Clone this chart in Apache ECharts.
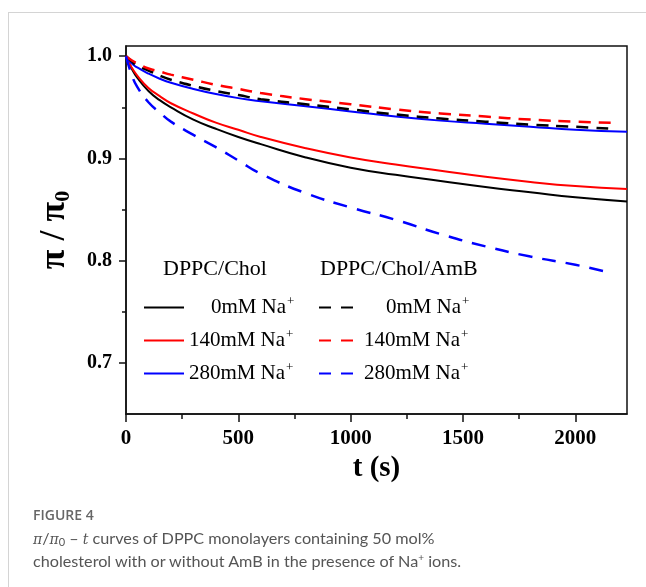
<!DOCTYPE html>
<html>
<head>
<meta charset="utf-8">
<script src="https://cdn.jsdelivr.net/npm/echarts@6/dist/echarts.min.js"></script>
<style>
  html, body { margin: 0; padding: 0; background: #fff; }
  .frame { position: absolute; left: 8px; top: 12px; width: 660px; height: 600px;
           border-top: 1.5px solid #d4d4d4; border-left: 1.5px solid #d4d4d4; }
  #chart { position: absolute; left: 0; top: 0; width: 646px; height: 587px; }
  .cap { position: absolute; left: 33px; top: 507px; font-family: Lato, "Open Sans", sans-serif; color: #555; }
  .cap .fig { font-family: "Open Sans", sans-serif; font-size: 14px; font-weight: 600; color: #666; line-height: 16px; }
  .cap .txt { font-size: 16.2px; line-height: 23px; margin-top: 3px; }
  .cap sub { font-size: 11px; vertical-align: -2px; line-height: 0; }
  .cap sup { font-size: 10px; vertical-align: 6px; line-height: 0; }
  .cap i { font-family: "DejaVu Serif", serif; font-size: 14px; line-height: 0; }
</style>
</head>
<body>
<div class="frame"></div>
<div id="chart"></div>
<div class="cap">
  <div class="fig">FIGURE 4</div>
  <div class="txt"><i>π</i>/<i>π</i><sub>0</sub> – <i>t</i> curves of DPPC monolayers containing 50 mol%<br>cholesterol with or without AmB in the presence of Na<sup>+</sup> ions.</div>
</div>
<script>
// time points (s)
var tSolid = [0, 25, 50, 100, 150, 200, 300, 400, 500, 600, 800, 1000, 1200, 1400, 1600, 1800, 2000, 2230];
var tDash  = [0, 25, 50, 100, 150, 200, 300, 400, 500, 600, 800, 1000, 1200, 1400, 1600, 1800, 2000, 2160];

// DPPC/Chol
var chol0   = [1.0, 0.988, 0.979, 0.966, 0.957, 0.950, 0.938, 0.929, 0.921, 0.914, 0.901, 0.891, 0.884, 0.878, 0.872, 0.867, 0.862, 0.858];
var chol140 = [1.0, 0.989, 0.981, 0.969, 0.961, 0.954, 0.944, 0.935, 0.928, 0.921, 0.910, 0.901, 0.894, 0.888, 0.882, 0.877, 0.873, 0.870];
var chol280 = [1.0, 0.993, 0.989, 0.983, 0.978, 0.974, 0.968, 0.963, 0.959, 0.956, 0.951, 0.946, 0.941, 0.937, 0.934, 0.931, 0.928, 0.926];
// DPPC/Chol/AmB
var amb0   = [1.0, 0.995, 0.991, 0.986, 0.981, 0.977, 0.971, 0.966, 0.962, 0.958, 0.953, 0.948, 0.943, 0.939, 0.936, 0.933, 0.931, 0.929];
var amb140 = [1.0, 0.996, 0.993, 0.988, 0.985, 0.982, 0.977, 0.972, 0.968, 0.964, 0.958, 0.953, 0.948, 0.944, 0.941, 0.938, 0.936, 0.935];
var amb280 = [1.0, 0.982, 0.970, 0.955, 0.945, 0.936, 0.923, 0.911, 0.898, 0.885, 0.866, 0.852, 0.840, 0.826, 0.814, 0.804, 0.796, 0.788];

var naLevels = ['0', '140', '280'];
var colors = ['#000000', '#ff0000', '#0000ff'];
var xMajor = [0, 500, 1000, 1500, 2000];
var xMinor = [250, 750, 1250, 1750];
var yMajor = [0.7, 0.8, 0.9, 1.0];
var yMinor = [0.75, 0.85, 0.95];

function pairs(ts, vs) {
  return ts.map(function (t, i) { return [t, vs[i]]; });
}

var serif = '"Liberation Serif", "Times New Roman", serif';
var cholSets = [chol0, chol140, chol280];
var ambSets = [amb0, amb140, amb280];
var series = [];
naLevels.forEach(function (n, i) {
  series.push({
    name: 'DPPC/Chol ' + n, type: 'line', xAxisIndex: 0, yAxisIndex: 0,
    data: pairs(tSolid, cholSets[i]), symbol: 'none', smooth: 0.5,
    lineStyle: { color: colors[i], width: 2 }, itemStyle: { color: colors[i] }
  });
});
naLevels.forEach(function (n, i) {
  series.push({
    name: 'DPPC/Chol/AmB ' + n, type: 'line', xAxisIndex: 0, yAxisIndex: 0,
    data: pairs(tDash, ambSets[i]), symbol: 'none', smooth: 0.5,
    lineStyle: { color: colors[i], width: 2.5, type: i === 2 ? [14, 10] : [12, 8] }, itemStyle: { color: colors[i] }
  });
});

var txt = { fontSize: 21, fontFamily: serif, color: '#000', lineHeight: 24 };
var rich = {
  n1: Object.assign({ padding: [0, 0, 0, 22] }, txt),
  n3: Object.assign({}, txt),
  b: Object.assign({ padding: [0, 0, 0, 5] }, txt),
  s: { fontSize: 13, fontFamily: serif, color: '#000', lineHeight: 24, padding: [0, 0, 12, 1] }
};
function legendFmt(name) {
  var n = name.split(' ').pop();
  return '{' + (n.length === 1 ? 'n1' : 'n3') + '|' + n + 'mM}{b|Na}{s|+}';
}

var myChart = echarts.init(document.getElementById('chart'));
var option = {
  animation: false,
  grid: { left: 126, right: 19, top: 46, bottom: 173, show: true, borderColor: '#111', borderWidth: 1.5 },
  xAxis: [{
    type: 'value', min: 0, max: 2230, position: 'bottom',
    name: 't (s)', nameLocation: 'middle', nameGap: 39,
    nameTextStyle: { fontFamily: serif, fontWeight: 'bold', fontSize: 29, color: '#000' },
    axisLine: { lineStyle: { color: '#111', width: 1.5 } },
    axisTick: { customValues: xMajor, length: 8, lineStyle: { color: '#111', width: 1.5 } },
    axisLabel: { customValues: xMajor, margin: 14, fontFamily: serif, fontWeight: 'bold', fontSize: 21, color: '#000',
      formatter: function (v) { return String(v); } },
    splitLine: { show: false }
  }, {
    type: 'value', min: 0, max: 2230, position: 'bottom',
    axisLine: { show: false },
    axisTick: { customValues: xMinor, length: 5, lineStyle: { color: '#111', width: 1.5 } },
    axisLabel: { show: false }, splitLine: { show: false }
  }],
  yAxis: [{
    type: 'value', min: 0.65, max: 1.01, position: 'left',
    name: '{p|π / π}{z|0}', nameLocation: 'middle', nameGap: 52,
    nameTextStyle: {
      rich: {
        p: { fontFamily: serif, fontWeight: 'bold', fontSize: 36, color: '#000' },
        z: { fontFamily: serif, fontWeight: 'bold', fontSize: 22, color: '#000', padding: [16, 0, 0, 0] }
      }
    },
    axisLine: { lineStyle: { color: '#111', width: 1.5 } },
    axisTick: { customValues: yMajor, length: 7, lineStyle: { color: '#111', width: 1.5 } },
    axisLabel: { customValues: yMajor, margin: 14, fontFamily: serif, fontWeight: 'bold', fontSize: 20, color: '#000',
      formatter: function (v) { return v.toFixed(1); } },
    splitLine: { show: false }
  }, {
    type: 'value', min: 0.65, max: 1.01, position: 'left',
    axisLine: { show: false },
    axisTick: { customValues: yMinor, length: 4, lineStyle: { color: '#111', width: 1.5 } },
    axisLabel: { show: false }, splitLine: { show: false }
  }],
  legend: [{
    data: series.slice(0, 3).map(function (s) { return s.name; }),
    orient: 'vertical', left: 143, top: 295, padding: 0, itemWidth: 40, itemHeight: 14, itemGap: 8,
    formatter: legendFmt, textStyle: { rich: rich }, selectedMode: false,
    itemStyle: { opacity: 0 }
  }, {
    data: series.slice(3).map(function (s) { return s.name; }),
    orient: 'vertical', left: 318, top: 295, padding: 0, itemWidth: 40, itemHeight: 14, itemGap: 8,
    formatter: legendFmt, textStyle: { rich: rich }, selectedMode: false,
    itemStyle: { opacity: 0 }, lineStyle: { type: [12, 10] }
  }],
  graphic: [
    { type: 'text', left: 163, top: 258, style: { text: 'DPPC/Chol', fontFamily: serif, fontSize: 22, fill: '#000' } },
    { type: 'text', left: 320, top: 258, style: { text: 'DPPC/Chol/AmB', fontFamily: serif, fontSize: 22, fill: '#000' } }
  ],
  series: series
};
myChart.setOption(option);
</script>
</body>
</html>
